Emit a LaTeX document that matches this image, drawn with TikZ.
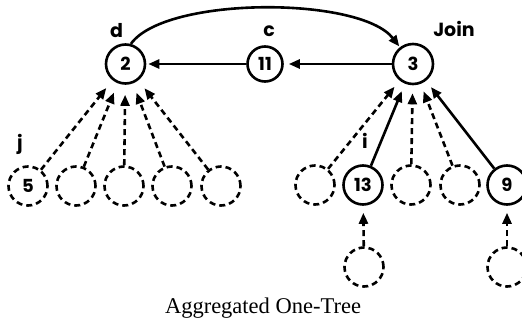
\documentclass[tikz,border=0pt]{standalone}
\usepackage{fontspec}
\setmainfont{Liberation Serif}
\newfontfamily\labfont{Poppins}
\usetikzlibrary{arrows.meta}
\tikzset{
  vert/.style={circle, draw, line width=2.6pt, inner sep=0pt, minimum size=39pt,
    font=\labfont\bfseries\fontsize{18}{18}\selectfont},
  ghost/.style={vert, dashed, dash pattern=on 6pt off 4pt},
  lab/.style={anchor=base, inner sep=0pt, font=\labfont\bfseries\fontsize{19}{19}\selectfont},
  edge/.style={line width=2.6pt, -{Triangle[length=11pt,width=9pt]}},
  dedge/.style={edge, dash pattern=on 6pt off 4pt},
}
\begin{document}
\begin{tikzpicture}[x=1pt,y=-1pt]
\useasboundingbox (0,0) rectangle (522,324);
% top row
\node[vert] (n2) at (125.5,64) {2};
\node[vert, minimum size=35pt] (n11) at (265,64) {11};
\node[vert, minimum size=40pt] (n3) at (413,64) {3};
% labels
\node[lab] (ld) at (116.5,37) {d};
\node[lab] (lc) at (269,36) {c};
\node[lab] (lj) at (454,36) {Join};
\node[lab] (lji) at (20,149) {j};
\node[lab] (li) at (365,148) {i};
% left row
\node[ghost] (a1) at (28,186) {5};
\node[ghost] (a2) at (76,186) {};
\node[ghost] (a3) at (124,186) {};
\node[ghost] (a4) at (172,186) {};
\node[ghost] (a5) at (221,186) {};
% right row
\node[ghost] (b1) at (315,185) {};
\node[vert] (b2) at (363,185) {13};
\node[ghost] (b3) at (411,185) {};
\node[ghost] (b4) at (460,185) {};
\node[vert] (b5) at (507,185) {9};
% lower row
\node[ghost] (c1) at (364,267) {};
\node[ghost] (c2) at (507,267) {};
% caption
\node[anchor=base, inner sep=0pt, font=\fontsize{22.5}{22.5}\selectfont] (cap) at (263,313) {Aggregated One-Tree};
% top edges
\draw[edge, shorten >=2pt] (n11) -- (n2);
\draw[edge, shorten >=5pt] (n3) -- (n11);
\draw[edge, shorten >=1pt] (n2.75) .. controls (165,-4) and (360,-4) .. (n3.128);
% left fan
\foreach \s in {a1,a2,a3,a4,a5} \draw[dedge, shorten >=10pt] (\s) -- (n2);
% right fan
\draw[dedge, shorten >=8pt] (b1) -- (n3);
\draw[edge, shorten >=8pt] (b2) -- (n3);
\draw[dedge, shorten >=8pt] (b3) -- (n3);
\draw[dedge, shorten >=8pt] (b4) -- (n3);
\draw[edge, shorten >=8pt] (b5) -- (n3);
% lower
\draw[dedge, shorten >=7pt] (c1) -- (b2);
\draw[dedge, shorten >=7pt] (c2) -- (b5);
\end{tikzpicture}
\end{document}
